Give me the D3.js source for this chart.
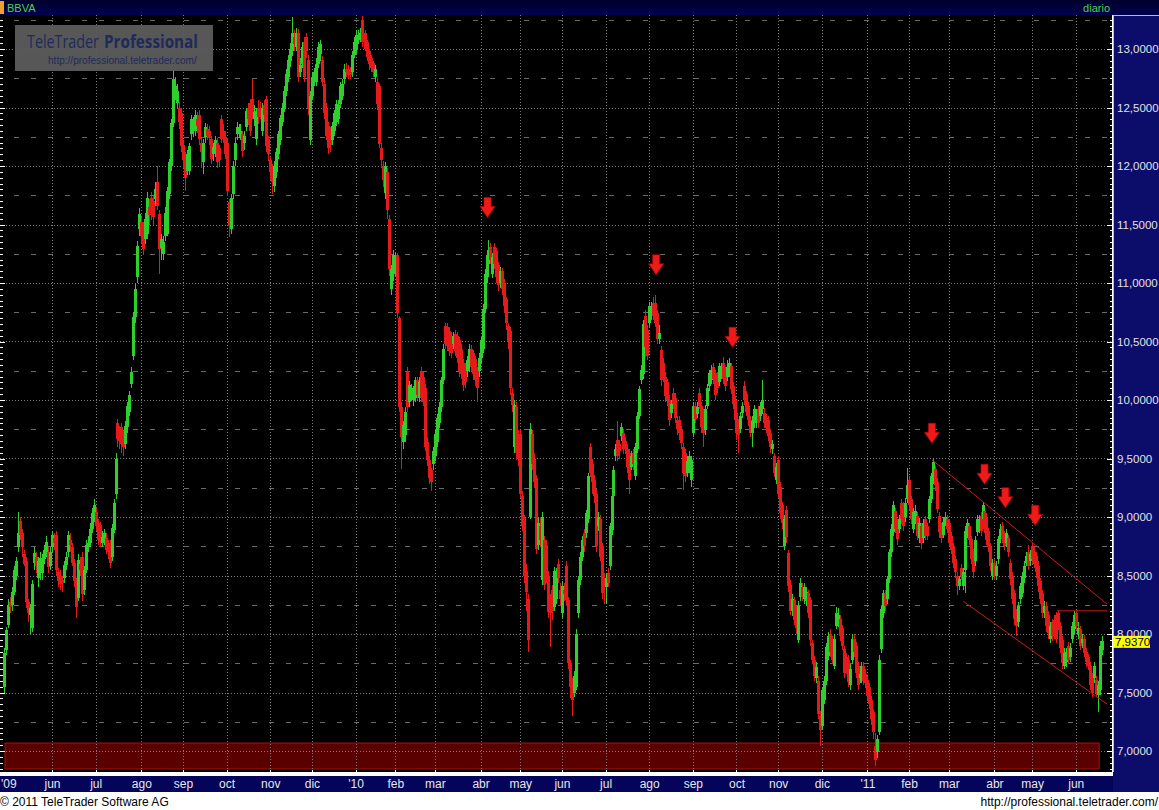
<!DOCTYPE html>
<html><head><meta charset="utf-8">
<script src="https://cdn.jsdelivr.net/npm/d3@7"></script>
<style>html,body{margin:0;padding:0;background:#fff;overflow:hidden}svg{display:block}</style>
</head><body>
<svg id="chart" width="1159" height="810"></svg>
<script>
// ---------------- DATA ----------------
const symbol = "BBVA";
const period = "diario";
const startDate = "2009-04-27";
const holidays = ["2009-05-01","2009-12-25","2010-01-01","2010-04-02","2010-04-05","2011-04-22","2011-04-25"];

const opens = [
7.55,7.86,8.08,8.27,
8.25,8.36,8.50,8.74,8.97,8.86,8.68,8.62,8.27,8.16,8.05,8.61,8.66,8.48,8.55,8.52,8.64,8.70,8.70,8.58,
8.74,8.82,8.85,8.53,8.50,8.46,8.48,8.59,8.70,8.80,8.74,8.61,8.45,8.31,8.60,8.66,8.38,8.55,8.74,8.78,8.90,9.00,
9.04,8.95,8.93,8.78,8.80,8.82,8.75,8.78,8.66,8.89,9.20,9.80,9.72,9.77,9.68,9.62,9.77,9.90,10.14,10.38,10.71,11.05,11.46,
11.52,11.49,11.38,11.42,11.65,11.73,11.70,11.72,11.86,11.59,11.30,11.25,11.40,11.42,11.76,12.00,12.37,12.62,12.54,12.50,12.45,
12.18,12.10,11.96,11.96,12.27,12.30,12.30,12.40,12.44,12.20,12.03,12.25,12.32,12.30,12.23,12.10,12.12,12.20,12.15,12.40,12.30,12.25,
12.20,11.69,11.46,11.76,12.05,12.27,12.28,12.27,12.27,12.20,12.33,12.50,12.54,12.57,12.40,12.23,12.50,12.50,12.30,12.52,12.57,12.23,
12.05,12.00,11.83,11.95,12.10,12.22,12.38,12.50,12.64,12.76,12.90,12.98,13.10,13.02,13.14,12.80,12.87,13.06,13.10,12.91,12.22,
12.60,12.72,12.72,12.87,12.96,12.91,12.70,12.50,12.34,12.30,12.22,12.30,12.38,12.40,12.53,12.60,12.74,12.83,12.83,12.82,12.80,12.95,
13.00,13.08,13.10,13.25,13.10,13.14,13.06,12.98,12.92,12.88,12.76,12.72,12.68,12.15,12.00,11.77,11.95,11.55,10.95,11.08,
11.10,11.24,10.70,9.94,9.64,9.70,10.25,9.98,10.06,10.00,10.02,10.17,10.02,10.25,10.20,10.10,9.64,9.49,9.40,9.45,
9.52,9.64,9.80,9.94,10.17,10.63,10.62,10.59,10.55,10.48,10.56,10.55,10.51,10.44,10.32,10.28,10.25,10.29,10.44,10.40,10.35,10.25,10.25,
10.36,10.44,10.78,11.05,11.16,11.31,11.08,11.31,11.27,11.15,11.00,11.10,11.00,10.86,10.63,10.59,10.06,9.60,9.94,9.70,
9.71,9.18,8.99,8.54,8.30,9.00,9.71,9.50,9.33,8.76,8.92,8.46,8.80,8.76,8.50,8.30,8.38,8.23,8.30,8.60,8.38,
8.18,8.38,8.58,8.29,7.75,7.58,7.50,7.55,8.18,8.46,8.66,8.86,8.86,8.98,9.60,9.45,9.32,9.20,8.92,8.98,8.75,8.48,
8.40,8.52,8.58,8.89,9.18,9.52,9.66,9.62,9.69,9.72,9.65,9.58,9.55,9.43,9.55,9.35,9.58,9.86,10.17,10.22,10.72,10.60,
10.66,10.72,10.83,10.83,10.74,10.52,10.43,10.32,10.20,10.15,10.00,9.89,10.06,10.02,9.83,9.83,9.75,9.60,9.55,9.38,9.42,9.32,
9.72,9.95,9.88,10.06,9.95,9.89,9.74,9.95,10.12,10.17,10.28,10.23,10.20,10.15,10.22,10.32,10.25,10.20,10.23,10.29,10.12,10.00,
9.89,9.80,9.75,9.89,10.12,10.05,9.95,9.83,9.72,9.80,9.80,9.92,9.86,9.92,9.89,9.85,9.83,9.72,9.58,9.52,9.32,
9.49,9.26,9.10,8.75,9.06,8.69,8.42,8.20,8.29,8.20,7.95,8.32,8.40,8.30,8.28,8.35,8.29,7.92,7.78,7.62,7.60,7.30,
7.21,7.44,7.60,7.81,8.00,7.95,7.73,8.07,8.10,8.13,8.05,7.87,7.80,7.78,7.56,7.78,7.96,7.90,7.73,7.62,7.61,7.73,7.66,
7.61,7.55,7.44,7.33,7.04,6.99,7.16,7.87,8.18,8.35,8.30,8.47,8.70,8.87,9.05,8.95,8.90,9.12,9.10,9.00,9.15,
9.32,9.15,8.90,8.98,9.01,8.82,8.92,8.82,8.98,8.92,8.98,9.15,9.32,9.41,9.30,9.01,8.92,8.85,8.95,8.98,
8.95,8.84,8.75,8.64,8.50,8.41,8.56,8.41,8.55,8.85,8.92,8.81,8.70,8.62,8.87,8.90,9.01,8.98,9.05,9.00,8.88,8.75,8.50,
8.61,8.50,8.64,8.81,8.92,8.84,8.78,8.82,8.61,8.50,8.35,8.18,8.10,8.30,8.35,8.48,8.61,8.70,8.62,
8.75,8.70,8.67,8.58,8.45,8.35,8.18,8.24,8.16,7.96,8.10,8.12,8.16,8.18,8.07,7.95,7.73,7.76,7.90,7.80,7.96,8.04,
8.18,8.00,8.04,7.92,7.96,7.85,7.80,7.73,7.64,7.62,7.61,7.48,7.52,7.86];

const highs = [
7.88,8.06,8.30,8.32,
8.40,8.58,8.66,9.04,9.00,8.90,8.72,8.66,8.30,8.26,8.46,8.74,8.70,8.66,8.70,8.68,8.76,8.84,8.74,8.74,
8.88,8.86,8.88,8.56,8.55,8.50,8.62,8.70,8.88,8.86,8.78,8.64,8.48,8.68,8.66,8.70,8.58,8.80,8.84,8.95,9.08,9.15,
9.08,8.98,8.96,8.88,8.90,8.86,8.80,8.80,8.94,9.15,9.55,9.84,9.78,9.80,9.74,9.82,9.98,10.08,10.28,10.75,10.99,11.36,11.64,
11.56,11.52,11.60,11.78,11.72,11.78,11.74,11.86,12.00,11.62,11.42,11.40,11.65,11.82,12.06,12.40,12.82,12.76,12.70,12.55,12.50,
12.22,12.12,12.14,12.20,12.44,12.42,12.48,12.46,12.48,12.24,12.23,12.37,12.36,12.34,12.26,12.20,12.26,12.24,12.18,12.44,12.36,12.30,
12.24,11.72,11.76,12.04,12.24,12.38,12.36,12.36,12.30,12.30,12.50,12.54,12.57,12.74,12.52,12.50,12.56,12.55,12.54,12.56,12.60,12.26,
12.08,12.02,12.04,12.15,12.30,12.44,12.54,12.68,12.83,12.95,13.05,13.27,13.16,13.18,13.17,12.92,13.06,13.10,13.14,12.95,12.64,
12.80,12.84,12.92,13.06,13.08,12.94,12.74,12.54,12.38,12.33,12.38,12.48,12.56,12.56,12.72,12.74,12.87,12.88,12.86,12.85,12.98,13.10,
13.16,13.16,13.18,13.28,13.14,13.16,13.08,13.00,12.95,12.90,12.86,12.75,12.70,12.20,12.04,12.03,11.98,11.58,11.15,11.28,
11.26,11.26,10.72,9.98,9.82,9.94,10.28,10.16,10.14,10.12,10.20,10.20,10.20,10.28,10.24,10.14,9.68,9.52,9.42,9.60,
9.74,9.88,9.98,10.20,10.48,10.66,10.66,10.62,10.58,10.58,10.60,10.58,10.54,10.48,10.35,10.32,10.38,10.48,10.47,10.43,10.38,10.28,10.40,
10.54,10.82,11.12,11.28,11.37,11.34,11.26,11.34,11.30,11.18,11.14,11.13,11.03,10.88,10.66,10.62,10.10,10.00,9.98,9.74,
9.74,9.22,9.02,8.60,8.34,9.80,9.74,9.55,9.36,9.00,9.00,9.04,8.84,8.80,8.54,8.34,8.42,8.57,8.56,8.64,8.44,
8.45,8.44,8.62,8.32,7.78,7.62,7.68,8.04,8.50,8.70,8.84,8.90,9.06,9.38,9.63,9.50,9.36,9.24,9.04,9.02,8.78,8.52,
8.52,8.56,8.95,9.22,9.44,9.62,9.82,9.66,9.80,9.75,9.68,9.62,9.58,9.56,9.58,9.63,9.90,10.12,10.30,10.68,10.77,10.64,
10.84,10.84,10.88,10.90,10.77,10.64,10.46,10.36,10.24,10.18,10.04,10.00,10.10,10.06,9.86,9.86,9.78,9.63,9.58,9.52,9.56,9.52,
9.98,9.98,9.98,10.10,9.98,9.92,9.96,10.14,10.26,10.30,10.32,10.26,10.24,10.32,10.32,10.37,10.28,10.34,10.36,10.32,10.15,10.03,
9.92,9.84,9.90,9.98,10.16,10.08,9.98,9.86,9.86,9.96,9.92,9.95,9.98,10.17,9.93,9.88,9.86,9.75,9.66,9.55,9.46,
9.52,9.30,9.13,9.02,9.09,8.72,8.46,8.34,8.32,8.24,8.28,8.48,8.44,8.44,8.40,8.38,8.32,7.95,7.81,7.76,7.64,7.34,
7.55,7.64,7.92,8.02,8.04,7.98,8.00,8.23,8.22,8.16,8.08,7.90,7.84,7.82,7.74,8.00,8.00,7.93,7.76,7.70,7.76,7.76,7.70,
7.64,7.58,7.47,7.36,7.15,7.14,7.82,8.24,8.38,8.38,8.50,8.73,8.94,9.14,9.08,8.98,9.02,9.15,9.13,9.16,9.42,
9.35,9.18,9.08,9.10,9.04,8.99,8.95,8.98,9.01,8.95,9.18,9.38,9.50,9.44,9.33,9.04,8.95,9.00,9.04,9.02,
8.98,8.87,8.78,8.67,8.53,8.50,8.60,8.56,8.92,8.98,8.95,8.84,8.73,8.84,9.02,9.02,9.04,9.13,9.08,9.03,8.91,8.78,8.64,
8.64,8.62,8.84,8.94,8.96,8.88,8.90,8.85,8.64,8.53,8.38,8.21,8.27,8.44,8.53,8.62,8.70,8.76,8.72,
8.78,8.74,8.70,8.62,8.48,8.38,8.28,8.27,8.20,8.10,8.13,8.16,8.19,8.20,8.10,7.98,7.88,7.88,7.93,7.92,8.10,8.20,
8.20,8.10,8.07,8.00,7.99,7.88,7.83,7.76,7.67,7.76,7.64,7.60,7.94,7.98];

const lows = [
7.50,7.82,8.05,8.18,
8.20,8.33,8.46,8.70,8.80,8.66,8.58,8.22,8.10,8.00,8.02,8.55,8.52,8.40,8.46,8.46,8.60,8.66,8.52,8.55,
8.70,8.72,8.50,8.40,8.38,8.36,8.44,8.55,8.66,8.70,8.58,8.40,8.14,8.28,8.50,8.28,8.33,8.52,8.70,8.74,8.86,8.96,
8.88,8.76,8.74,8.74,8.76,8.68,8.64,8.56,8.62,8.86,9.15,9.60,9.58,9.55,9.52,9.58,9.72,9.86,10.10,10.34,10.66,11.00,11.40,
11.34,11.24,11.33,11.38,11.50,11.54,11.50,11.66,11.62,11.08,11.20,11.20,11.36,11.40,11.72,11.96,12.33,12.56,12.50,12.32,12.12,
11.98,11.79,11.92,11.92,12.22,12.25,12.26,12.28,12.18,11.98,11.93,12.20,12.22,12.18,12.02,12.04,12.08,11.98,12.00,12.20,12.20,12.06,
11.74,11.39,11.42,11.72,12.00,12.22,12.24,12.22,12.08,12.14,12.30,12.35,12.26,12.40,12.34,12.18,12.36,12.40,12.26,12.38,12.12,12.04,
11.88,11.76,11.78,11.90,12.06,12.18,12.34,12.46,12.60,12.72,12.85,12.94,12.98,12.98,12.72,12.76,12.84,12.72,12.92,12.44,12.18,
12.56,12.68,12.68,12.84,12.90,12.68,12.40,12.22,12.10,12.12,12.18,12.26,12.34,12.36,12.50,12.56,12.70,12.76,12.74,12.74,12.76,12.92,
12.96,13.04,13.06,13.02,13.00,12.98,12.90,12.82,12.80,12.76,12.72,12.48,12.15,11.98,11.82,11.72,11.55,11.06,10.90,11.02,
11.06,10.70,9.90,9.41,9.58,9.64,9.90,9.94,10.00,9.95,9.98,10.00,9.98,9.98,9.95,9.56,9.44,9.28,9.22,9.40,
9.48,9.60,9.76,9.90,10.14,10.44,10.42,10.38,10.36,10.44,10.38,10.32,10.20,10.18,10.08,10.10,10.20,10.24,10.24,10.17,10.12,9.98,10.20,
10.32,10.40,10.74,11.00,11.12,11.16,11.04,11.12,11.00,10.93,10.96,10.90,10.74,10.60,10.44,10.04,9.90,9.55,9.49,9.44,
9.16,8.88,8.44,8.20,7.85,8.98,9.40,9.25,8.68,8.72,8.74,8.42,8.38,8.44,8.14,7.89,8.12,8.20,8.26,8.44,8.24,
8.14,8.28,8.24,7.70,7.45,7.30,7.46,7.52,8.14,8.42,8.62,8.70,8.82,8.95,9.34,9.20,9.12,8.70,8.88,8.62,8.30,8.26,
8.26,8.40,8.55,8.85,9.15,9.48,9.48,9.50,9.65,9.54,9.54,9.38,9.20,9.40,9.40,9.32,9.55,9.84,10.14,10.18,10.37,10.34,
10.62,10.68,10.68,10.62,10.48,10.48,10.12,10.15,9.98,9.95,9.78,9.85,9.92,9.80,9.70,9.66,9.58,9.23,9.30,9.34,9.38,9.26,
9.68,9.80,9.85,9.92,9.72,9.60,9.70,9.92,10.08,10.14,10.14,10.00,10.06,10.12,10.18,10.14,10.08,10.16,10.20,10.05,9.92,9.78,
9.66,9.55,9.72,9.85,9.96,9.86,9.78,9.68,9.60,9.76,9.76,9.76,9.82,9.88,9.76,9.72,9.65,9.55,9.54,9.34,9.28,
9.16,8.98,8.90,8.72,8.78,8.36,8.16,8.15,8.08,8.00,7.92,8.28,8.28,8.26,8.24,8.14,7.90,7.74,7.60,7.58,7.27,7.04,
7.18,7.40,7.56,7.78,7.80,7.74,7.70,8.04,8.06,7.94,7.86,7.62,7.66,7.55,7.52,7.74,7.80,7.62,7.52,7.58,7.58,7.56,7.54,
7.43,7.36,7.22,7.10,6.87,6.94,7.14,7.84,8.14,8.20,8.26,8.44,8.66,8.84,8.86,8.76,8.86,8.94,8.88,8.96,9.12,
9.06,8.94,8.86,8.94,8.80,8.78,8.73,8.78,8.80,8.80,8.95,9.12,9.28,9.22,9.03,8.82,8.78,8.82,8.92,8.86,
8.74,8.68,8.56,8.48,8.33,8.38,8.46,8.38,8.35,8.82,8.76,8.60,8.48,8.58,8.84,8.86,8.84,8.95,8.86,8.76,8.70,8.54,8.46,
8.46,8.46,8.60,8.78,8.78,8.72,8.74,8.66,8.42,8.26,8.08,7.98,8.06,8.26,8.32,8.44,8.58,8.55,8.58,
8.60,8.56,8.48,8.36,8.26,8.14,8.14,8.02,7.96,7.92,7.94,7.96,7.92,8.03,7.84,7.70,7.70,7.72,7.74,7.76,7.92,8.00,
8.03,7.96,7.86,7.88,7.80,7.72,7.69,7.52,7.46,7.58,7.46,7.33,7.48,7.82];

const closes = [
7.84,8.03,8.25,8.23,
8.36,8.55,8.62,8.86,8.85,8.74,8.60,8.27,8.18,8.22,8.43,8.69,8.58,8.62,8.65,8.64,8.72,8.79,8.57,8.70,
8.85,8.78,8.55,8.45,8.43,8.44,8.59,8.66,8.85,8.76,8.61,8.45,8.23,8.63,8.55,8.34,8.55,8.76,8.78,8.90,9.03,9.10,
8.92,8.80,8.79,8.83,8.86,8.72,8.70,8.61,8.91,9.12,9.50,9.67,9.65,9.62,9.60,9.78,9.95,10.04,10.24,10.71,10.95,11.32,11.59,
11.40,11.29,11.55,11.73,11.58,11.60,11.56,11.80,11.66,11.29,11.38,11.35,11.60,11.79,12.03,12.37,12.74,12.68,12.64,12.38,12.17,
12.05,11.90,12.10,12.17,12.40,12.36,12.44,12.34,12.23,12.12,12.20,12.33,12.26,12.24,12.06,12.16,12.22,12.03,12.05,12.23,12.25,12.10,
11.79,11.49,11.73,12.00,12.20,12.33,12.32,12.30,12.13,12.26,12.47,12.40,12.30,12.44,12.46,12.47,12.42,12.46,12.50,12.44,12.17,12.10,
11.95,11.86,12.00,12.12,12.27,12.41,12.50,12.64,12.79,12.91,13.00,13.14,13.04,13.14,12.76,12.86,13.02,12.76,12.98,12.49,12.60,
12.76,12.80,12.87,13.02,13.04,12.72,12.45,12.26,12.15,12.18,12.34,12.45,12.53,12.52,12.68,12.70,12.83,12.80,12.78,12.78,12.95,13.06,
13.12,13.10,13.14,13.06,13.06,13.02,12.93,12.87,12.84,12.80,12.83,12.53,12.19,12.05,11.88,12.00,11.62,11.12,11.12,11.24,
11.22,10.74,9.94,9.68,9.79,9.90,9.94,10.13,10.10,10.06,10.17,10.04,10.15,10.02,9.98,9.60,9.49,9.33,9.30,9.56,
9.71,9.85,9.94,10.17,10.44,10.48,10.46,10.42,10.40,10.55,10.42,10.36,10.25,10.22,10.13,10.15,10.34,10.44,10.28,10.22,10.17,10.10,10.36,
10.51,10.78,11.08,11.24,11.27,11.20,11.22,11.16,11.05,10.98,11.10,10.95,10.80,10.66,10.50,10.10,9.96,9.96,9.55,9.50,
9.20,8.92,8.50,8.36,7.95,9.75,9.45,9.30,8.73,8.95,8.80,9.00,8.42,8.50,8.19,8.18,8.20,8.54,8.52,8.48,8.30,
8.41,8.34,8.29,7.75,7.55,7.44,7.64,8.00,8.46,8.66,8.80,8.75,9.03,9.35,9.38,9.30,9.18,8.75,9.00,8.66,8.35,8.40,
8.48,8.44,8.92,9.18,9.40,9.58,9.52,9.56,9.77,9.58,9.58,9.43,9.32,9.52,9.45,9.60,9.86,10.09,10.26,10.65,10.45,10.38,
10.80,10.78,10.72,10.66,10.52,10.57,10.17,10.20,10.03,10.00,9.83,9.97,9.97,9.85,9.75,9.72,9.63,9.38,9.35,9.48,9.52,9.49,
9.95,9.84,9.94,9.95,9.77,9.72,9.92,10.10,10.23,10.26,10.18,10.04,10.10,10.29,10.28,10.18,10.12,10.28,10.32,10.09,9.97,9.83,
9.72,9.70,9.86,9.95,10.00,9.90,9.83,9.72,9.82,9.92,9.88,9.80,9.95,10.00,9.80,9.76,9.69,9.60,9.62,9.38,9.43,
9.20,9.03,8.95,8.98,8.83,8.41,8.20,8.30,8.12,8.05,8.24,8.44,8.32,8.40,8.36,8.18,7.95,7.78,7.64,7.72,7.32,7.18,
7.52,7.60,7.89,7.98,7.85,7.78,7.96,8.18,8.16,7.98,7.90,7.67,7.70,7.59,7.70,7.96,7.85,7.67,7.56,7.66,7.73,7.60,7.58,
7.47,7.40,7.27,7.16,6.92,7.10,7.78,8.21,8.35,8.24,8.47,8.70,8.90,9.10,8.90,8.81,8.98,8.98,8.92,9.12,9.27,
9.10,8.98,9.04,9.05,8.84,8.95,8.78,8.95,8.84,8.84,9.15,9.35,9.47,9.27,9.07,8.87,8.82,8.96,9.00,8.90,
8.78,8.72,8.61,8.53,8.41,8.47,8.50,8.53,8.88,8.95,8.80,8.64,8.53,8.80,8.98,8.98,8.88,9.10,8.90,8.80,8.74,8.58,8.61,
8.50,8.58,8.81,8.90,8.81,8.75,8.86,8.70,8.47,8.30,8.13,8.07,8.24,8.41,8.50,8.58,8.67,8.58,8.68,
8.64,8.60,8.53,8.41,8.30,8.18,8.24,8.07,8.01,8.07,7.98,8.00,7.96,8.07,7.88,7.75,7.84,7.85,7.78,7.88,8.07,8.16,
8.07,8.05,7.90,7.96,7.84,7.76,7.73,7.56,7.50,7.73,7.50,7.56,7.90,7.937];

const monthKeys = ["2009-06","2009-07","2009-08","2009-09","2009-10","2009-11","2009-12",
  "2010-01","2010-02","2010-03","2010-04","2010-05","2010-06","2010-07","2010-08","2010-09","2010-10","2010-11","2010-12",
  "2011-01","2011-02","2011-03","2011-04","2011-05","2011-06"];
const monthLabels = ["jun","jul","ago","sep","oct","nov","dic","'10","feb","mar","abr","may","jun","jul","ago","sep","oct","nov","dic","'11","feb","mar","abr","may","jun"];
const firstLabel = "'09";
const yLabelValues = [7,7.5,8,8.5,9,9.5,10,10.5,11,11.5,12,12.5,13];

// annotations (index position, price)
const arrowIdx = [243.5, 328.5, 367, 467.5, 494, 504.5, 519.5];
const arrowTip = [11.56, 11.07, 10.45, 9.63, 9.28, 9.08, 8.93];
const channelUpper = [[467.5, 9.49], [555.8, 8.255]];
const channelLower = [[483.3, 8.28], [555.8, 7.40]];
const resistance = [[530.5, 8.198], [555.8, 8.198]];
const zoneIdx = [0.3, 551.8];
const zonePrice = [7.068, 6.846];
const lastPrice = 7.937;

// ---------------- LAYOUT ----------------
const W = 1159, H = 810;
const plotL = 0, plotR = 1112, plotT = 15, plotB = 772;
const N = Math.min(opens.length, highs.length, lows.length, closes.length);

// trading dates
const hol = new Set(holidays);
const dates = [];
{
  let d = new Date(startDate + "T00:00:00Z");
  while (dates.length < N) {
    const wd = d.getUTCDay();
    const s = d.toISOString().slice(0,10);
    if (wd !== 0 && wd !== 6 && !hol.has(s)) dates.push(s);
    d = new Date(d.getTime() + 86400000);
  }
}
const monthIdx = monthKeys.map(k => dates.findIndex(s => s.startsWith(k)));

const x = d3.scaleLinear().domain([0, 553]).range([4.4, 4.4 + 1.984*553]);
const y = d3.scaleLinear().domain([7, 13]).range([751, 49]);

const svg = d3.select("#chart");
const FONT = "'Liberation Sans', Arial, Helvetica, sans-serif";

// backgrounds
svg.append("rect").attr("x",0).attr("y",0).attr("width",W).attr("height",H).attr("fill","#ffffff");
svg.append("rect").attr("x",plotL).attr("y",plotT).attr("width",plotR-plotL).attr("height",plotB-plotT).attr("fill","#000000");

const defs = svg.append("defs");
const hg = defs.append("linearGradient").attr("id","hdr").attr("x1",0).attr("y1",0).attr("x2",0).attr("y2",1);
hg.append("stop").attr("offset","0").attr("stop-color","#00002c");
hg.append("stop").attr("offset","1").attr("stop-color","#000050");
defs.append("clipPath").attr("id","plotclip").append("rect")
  .attr("x",plotL).attr("y",plotT).attr("width",plotR-plotL).attr("height",plotB-plotT);

// header
svg.append("rect").attr("x",0).attr("y",0).attr("width",W).attr("height",15).attr("fill","url(#hdr)");
svg.append("rect").attr("x",0).attr("y",1).attr("width",4).attr("height",13).attr("fill","#f0a030");
svg.append("text").attr("x",7).attr("y",11.5).attr("font-family",FONT).attr("font-size",11)
  .attr("fill","#4fd04f").text(symbol);
svg.append("text").attr("x",1110).attr("y",11.5).attr("text-anchor","end").attr("font-family",FONT)
  .attr("font-size",11).attr("fill","#4fd04f").text(period);

// right panel
svg.append("rect").attr("x",1113.5).attr("y",15.5).attr("width",46).attr("height",757)
  .attr("fill","#0c0c6a").attr("stroke","#b8b8d8").attr("stroke-width",1);
// bottom band
svg.append("rect").attr("x",0).attr("y",776).attr("width",W).attr("height",16).attr("fill","#04045a");
svg.append("rect").attr("x",1113).attr("y",772).attr("width",46).attr("height",20).attr("fill","#0c0c6a");

const plot = svg.append("g").attr("clip-path","url(#plotclip)");

// zone box
plot.append("rect")
  .attr("x", x(zoneIdx[0])).attr("y", y(zonePrice[0]))
  .attr("width", x(zoneIdx[1]) - x(zoneIdx[0])).attr("height", y(zonePrice[1]) - y(zonePrice[0]))
  .attr("fill","#5a0000").attr("stroke","#b01010").attr("stroke-width",1);

// grid
const gridG = plot.append("g").attr("shape-rendering","crispEdges");
const majorY = d3.range(6.5, 13.51, 0.5);
const minorY = d3.range(6.75, 13.51, 0.5);
gridG.selectAll("line.gmaj").data(majorY).join("line")
  .attr("x1",plotL).attr("x2",plotR).attr("y1",d=>Math.round(y(d))+0.5).attr("y2",d=>Math.round(y(d))+0.5)
  .attr("stroke","#7a7a7a").attr("stroke-dasharray","1,2");
gridG.selectAll("line.gmin").data(minorY).join("line")
  .attr("x1",plotL+14).attr("x2",plotR).attr("y1",d=>Math.round(y(d))+0.5).attr("y2",d=>Math.round(y(d))+0.5)
  .attr("stroke","#6a6a6a").attr("stroke-dasharray","5,12");
gridG.selectAll("line.gv").data(monthIdx).join("line")
  .attr("x1",d=>Math.round(x(d))+0.5).attr("x2",d=>Math.round(x(d))+0.5).attr("y1",plotT).attr("y2",plotB)
  .attr("stroke","#7a7a7a").attr("stroke-dasharray","1,2");

// candles
const idx = d3.range(N);
const upCol = "#2ed02e", dnCol = "#e61a1a";
const cg = plot.append("g").attr("shape-rendering","crispEdges");
cg.selectAll("line.wick").data(idx).join("line")
  .attr("x1",i=>Math.round(x(i))+0.5).attr("x2",i=>Math.round(x(i))+0.5)
  .attr("y1",i=>y(Math.max(highs[i],opens[i],closes[i])))
  .attr("y2",i=>y(Math.min(lows[i],opens[i],closes[i])))
  .attr("stroke",i=>closes[i]>=opens[i]?upCol:dnCol).attr("stroke-width",1);
cg.selectAll("rect.body").data(idx).join("rect")
  .attr("x",i=>Math.round(x(i))-1).attr("width",3)
  .attr("y",i=>y(Math.max(opens[i],closes[i])))
  .attr("height",i=>Math.max(1, Math.abs(y(opens[i])-y(closes[i]))))
  .attr("fill",i=>closes[i]>=opens[i]?upCol:dnCol);

// channel lines
const lineGen = d3.line().x(d=>x(d[0])).y(d=>y(d[1]));
[channelUpper, channelLower, resistance].forEach(seg=>{
  plot.append("path").attr("d",lineGen(seg)).attr("fill","none").attr("stroke","#d01818").attr("stroke-width",1);
});

// arrows
const ag = plot.append("g");
arrowIdx.forEach((ai,k)=>{
  const cx = x(ai), ty = y(arrowTip[k]);
  const p = `M${cx-3.5},${ty-20} L${cx+3.5},${ty-20} L${cx+3.5},${ty-11} L${cx+7.5},${ty-11} L${cx},${ty} L${cx-7.5},${ty-11} L${cx-3.5},${ty-11} Z`;
  ag.append("path").attr("d",p).attr("fill","#ee1a1a").attr("stroke","#c00000").attr("stroke-width",0.6);
});

// logo (texts scaled horizontally to their measured target widths)
svg.append("rect").attr("x",15).attr("y",25).attr("width",198).attr("height",46).attr("fill","#5c5c5c").attr("opacity",0.95);
function fitText(txt, x0, y0, target, size, weight, family) {
  const t = svg.append("text").attr("font-family",family).attr("font-size",size)
    .attr("font-weight",weight).attr("fill","#1e2a5a").text(txt);
  const w = t.node().getComputedTextLength() || target;
  t.attr("transform",`translate(${x0},${y0}) scale(${target/w},1)`);
  return t;
}
fitText("TeleTrader", 27, 48, 72, 18, "normal", "'Open Sans', 'Liberation Sans', sans-serif");
fitText("Professional", 104, 48, 94, 18, "bold", "'Open Sans', 'Liberation Sans', sans-serif");
fitText("http://professional.teletrader.com/", 48, 63.5, 149, 11, "normal", FONT);

// left edge ticks
const minorTicks = d3.range(6.85, 13.3, 0.05);
const leftAxis = d3.axisRight(y).tickValues(minorTicks).tickSize(3).tickFormat("");
const la = svg.append("g").attr("transform","translate(0,0)").call(leftAxis);
la.select(".domain").remove();
la.selectAll("line").attr("stroke","#ffffff").attr("shape-rendering","crispEdges")
  .attr("x2",d=> (Math.abs(d*2-Math.round(d*2))<0.01)?5:3);

// right axis ticks
const rTicks = d3.axisLeft(y).tickValues(minorTicks).tickSize(3).tickFormat("");
const ra = svg.append("g").attr("transform","translate(1112.5,0)").call(rTicks);
ra.select(".domain").remove();
ra.selectAll("line").attr("stroke","#ffffff").attr("shape-rendering","crispEdges")
  .attr("x2",d=> (Math.abs(d*2-Math.round(d*2))<0.01)?-6:-3);
svg.append("line").attr("x1",1112.5).attr("x2",1112.5).attr("y1",plotT).attr("y2",plotB+4).attr("stroke","#ffffff");

// right axis labels
const fmt = d => d3.format(".4f")(d).replace(".",",");
const rLab = d3.axisRight(y).tickValues(yLabelValues).tickSize(0).tickPadding(4).tickFormat(fmt);
const rl = svg.append("g").attr("transform","translate(1113,0)").call(rLab);
rl.select(".domain").remove();
rl.selectAll("text").attr("font-family",FONT).attr("font-size",11.5).attr("fill","#e2e2e2");

// last price tag (drawn over the 8,0000 label as in the original)
const ly = y(lastPrice);
svg.append("rect").attr("x",1113).attr("y",ly-5.5).attr("width",37).attr("height",12).attr("fill","#ffff00");
svg.append("text").attr("x",1115).attr("y",ly+5).attr("font-family",FONT).attr("font-size",11.5)
  .attr("fill","#000000").text(fmt(lastPrice));

// bottom double line
svg.append("line").attr("x1",0).attr("x2",1113).attr("y1",772.5).attr("y2",772.5).attr("stroke","#ffffff");
svg.append("line").attr("x1",0).attr("x2",1113).attr("y1",775.5).attr("y2",775.5).attr("stroke","#ffffff");

// x axis
const xAxis = d3.axisBottom(x).tickValues(monthIdx).tickSize(0).tickPadding(4).tickFormat((d,i)=>monthLabels[i]);
const xa = svg.append("g").attr("transform","translate(0,775)").call(xAxis);
xa.select(".domain").remove();
xa.selectAll("text").attr("font-family",FONT).attr("font-size",12).attr("fill","#e6e6e6");
svg.selectAll("line.mt").data(monthIdx).join("line")
  .attr("x1",d=>Math.round(x(d))+0.5).attr("x2",d=>Math.round(x(d))+0.5).attr("y1",770).attr("y2",776)
  .attr("stroke","#ffffff");
svg.append("text").attr("x",1).attr("y",787.5).attr("font-family",FONT).attr("font-size",12)
  .attr("fill","#e6e6e6").text(firstLabel);

// footer
svg.append("text").attr("x",0).attr("y",805.5).attr("font-family",FONT).attr("font-size",12)
  .attr("fill","#000000").text("\u00a9 2011 TeleTrader Software AG");
svg.append("text").attr("x",1158).attr("y",805.5).attr("text-anchor","end").attr("font-family",FONT)
  .attr("font-size",12).attr("fill","#000000").text("http://professional.teletrader.com/");
</script>
</body></html>
